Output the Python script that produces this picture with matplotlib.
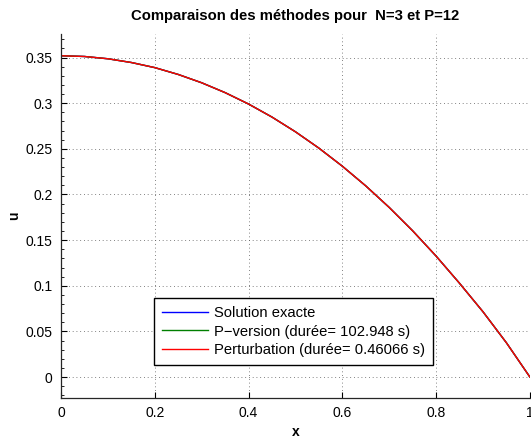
import matplotlib
matplotlib.use("Agg")
import matplotlib.pyplot as plt
from matplotlib.ticker import MultipleLocator

# Values.
x_vals = [0.0, 0.05, 0.1, 0.15, 0.2, 0.25, 0.3, 0.35, 0.4, 0.45, 0.5,
          0.55, 0.6, 0.65, 0.7, 0.75, 0.8, 0.85, 0.9, 0.95, 1.0]
u_exact = [0.352, 0.3512, 0.3487, 0.3446, 0.339, 0.3315, 0.3224, 0.3116,
           0.2991, 0.2848, 0.2687, 0.2508, 0.231, 0.2094, 0.1858, 0.1602,
           0.1325, 0.1027, 0.0715, 0.0375, 0.0]
u_pversion = list(u_exact)
u_perturb = list(u_exact)

x_ticks = [0, 0.2, 0.4, 0.6, 0.8, 1]
x_ticklabels = ["0", "0.2", "0.4", "0.6", "0.8", "1"]
y_ticks = [0, 0.05, 0.1, 0.15, 0.2, 0.25, 0.3, 0.35]
y_ticklabels = ["0", "0.05", "0.1", "0.15", "0.2", "0.25", "0.3", "0.35"]

labels = [
    "Solution exacte",
    "P\u2212version (durée= 102.948 s)",
    "Perturbation (durée= 0.46066 s)",
]
title = "Comparaison des méthodes pour  N=3 et P=12"

plt.rcParams["font.family"] = ["Liberation Sans", "DejaVu Sans"]
plt.rcParams["font.size"] = 10

fig = plt.figure(figsize=(5.31, 4.37), dpi=100)
ax = fig.add_axes([0.1149, 0.0892, 0.883, 0.8323])

ax.plot(x_vals, u_exact, color="#0000ff", linewidth=1.0, label=labels[0])
ax.plot(x_vals, u_pversion, color="#007f00", linewidth=1.0, label=labels[1])
ax.plot(x_vals, u_perturb, color="#ff0000", linewidth=1.0, label=labels[2])

ax.set_xlim(0, 1)
ax.set_ylim(-0.023, 0.3755)
ax.set_xticks(x_ticks)
ax.set_xticklabels(x_ticklabels)
ax.set_yticks(y_ticks)
ax.set_yticklabels(y_ticklabels)
ax.yaxis.set_minor_locator(MultipleLocator(0.01))
ax.tick_params(direction="in", length=4, width=0.8, labelsize=10, pad=6)
ax.tick_params(axis="y", which="minor", direction="in", length=2, width=0.6)

for side in ("top", "right"):
    ax.spines[side].set_visible(False)
for side in ("left", "bottom"):
    ax.spines[side].set_linewidth(0.9)
    ax.spines[side].set_color("#262626")

ax.grid(True, which="major", color="0.35", linestyle=(0, (1, 3.5)), linewidth=0.6)
ax.set_axisbelow(True)

ax.set_xlabel("x", fontweight="bold", labelpad=3)
ax.set_ylabel("u", fontweight="bold", labelpad=3)
ax.set_title(title, fontweight="bold", fontsize=10.7, pad=10)

leg = ax.legend(loc="lower center", bbox_to_anchor=(0.4955, 0.0907),
                prop={"size": 10.6},
                frameon=True, fancybox=False, shadow=False, framealpha=1,
                edgecolor="black", handlelength=3.1, handletextpad=0.4,
                labelspacing=0.3, borderpad=0.55, borderaxespad=0)
leg.get_frame().set_linewidth(1.0)

fig.savefig("out.png", dpi=100)
